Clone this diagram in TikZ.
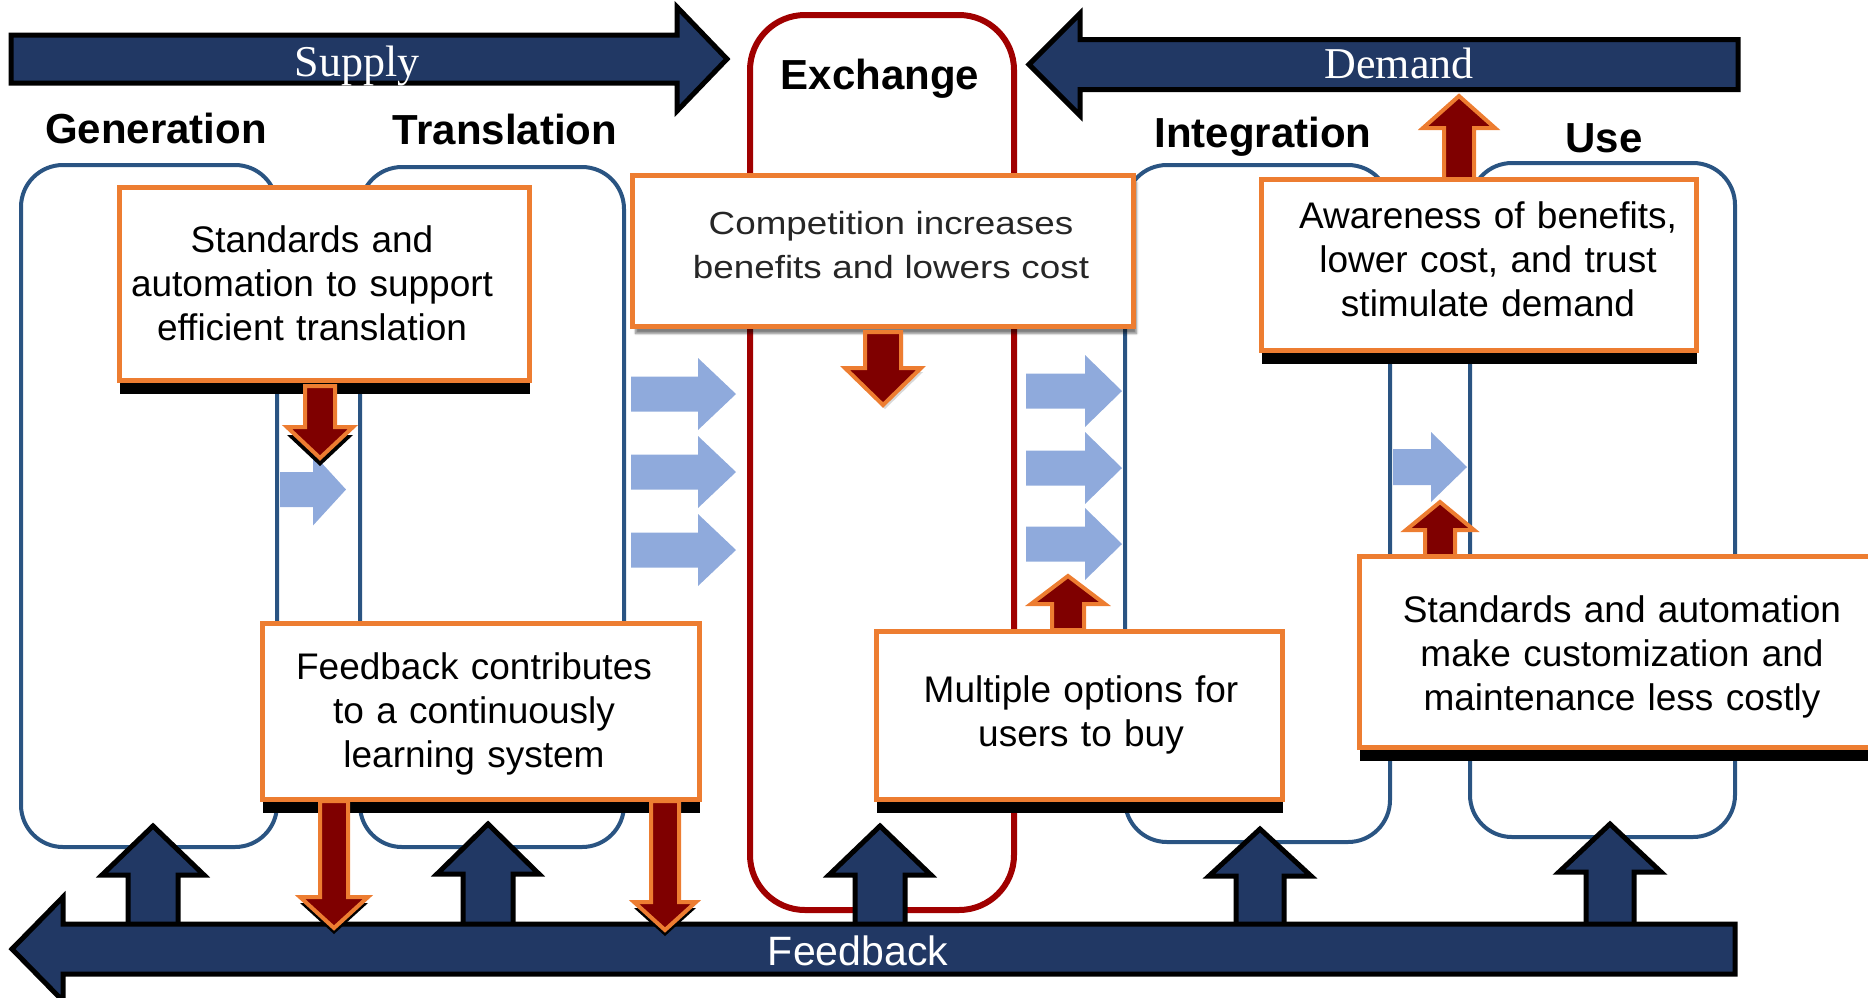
\documentclass[tikz,border=0pt]{standalone}
\usepackage{fontspec}
\setmainfont{Liberation Sans}
\newfontfamily\serifA{Liberation Serif}
\newfontfamily\wideA[FakeStretch=1.15]{Liberation Sans}
\usetikzlibrary{shadows,shadows.blur}
\definecolor{cNavy}{RGB}{33,56,100}
\definecolor{cSteel}{RGB}{42,84,130}
\definecolor{cExRed}{RGB}{160,0,0}
\definecolor{cOrange}{RGB}{237,125,49}
\definecolor{cMaroon}{RGB}{127,0,0}
\definecolor{cLBlue}{RGB}{143,170,220}
% vertical block arrow: cx, shaft half, head half, tail y, head-base y, tip y
\newcommand{\mkvarrow}[6]{(#1-#2,#4) -- (#1+#2,#4) -- (#1+#2,#5) -- (#1+#3,#5) -- (#1,#6) -- (#1-#3,#5) -- (#1-#2,#5) -- cycle}
% horizontal block arrow: cy, shaft half, head half, tail x, head-base x, tip x
\newcommand{\mkharrow}[6]{(#4,#1-#2) -- (#5,#1-#2) -- (#5,#1-#3) -- (#6,#1) -- (#5,#1+#3) -- (#5,#1+#2) -- (#4,#1+#2) -- cycle}
\tikzset{
  navyarrow/.style={fill=cNavy, draw=black, line width=5pt, line join=miter},
  redarrow/.style={fill=cMaroon, draw=cOrange, line width=4pt, line join=miter},
  bluearrow/.style={fill=cLBlue},
  stagebox/.style={draw=cSteel, line width=4pt, rounded corners=42pt, inner sep=0pt},
  exbox/.style={draw=cExRed, line width=6pt, rounded corners=55pt, inner sep=0pt},
  obox/.style={draw=cOrange, line width=5pt, fill=white, inner sep=0pt,
    general shadow={fill=black, shadow yshift=-13pt}},
  softbox/.style={draw=cOrange, line width=5pt, fill=white, inner sep=0pt,
    blur shadow={shadow xshift=3pt, shadow yshift=-7pt, shadow blur steps=6, shadow opacity=50}},
  stagelabel/.style={font=\bfseries\fontsize{42}{50}\selectfont, anchor=base},
  boxtext/.style={font=\fontsize{37}{44}\selectfont, align=center, anchor=base, text width=520pt, inner sep=0pt},
  bartext/.style={text=white, anchor=base, inner sep=0pt}
}
\begin{document}
\begin{tikzpicture}[x=1pt,y=-1pt]
\useasboundingbox (0,0) rectangle (1868,997);
\clip (0,0) rectangle (1868,997);

% stage boxes
\node[stagebox, minimum width=256, minimum height=682] (gen) at (149,506) {};
\node[stagebox, minimum width=264, minimum height=680] (trans) at (492,507) {};
\node[stagebox, minimum width=265, minimum height=677] (integ) at (1257.5,503.5) {};
\node[stagebox, minimum width=265, minimum height=674] (use) at (1602.5,500) {};
\node[exbox, minimum width=264, minimum height=895] (exch) at (882,462.5) {};

% stage labels
\node[stagelabel] (lgen) at (156,143) {Generation};
\node[stagelabel] (ltrans) at (505,144) {Translation};
\node[stagelabel] (lexch) at (880,89) {Exchange};
\node[stagelabel] (linteg) at (1263,147) {Integration};
\node[stagelabel] (luse) at (1604,152) {Use};

% light blue flow arrows
\fill[bluearrow] \mkharrow{489.5}{17.5}{36}{280}{313}{346};
\fill[bluearrow] \mkharrow{394}{17.5}{36}{631}{698}{736};
\fill[bluearrow] \mkharrow{472}{17.5}{36}{631}{698}{736};
\fill[bluearrow] \mkharrow{550}{17.5}{36}{631}{698}{736};
\fill[bluearrow] \mkharrow{391}{17.5}{36}{1026}{1085}{1122};
\fill[bluearrow] \mkharrow{468}{17.5}{36}{1026}{1085}{1122};
\fill[bluearrow] \mkharrow{544}{17.5}{36}{1026}{1085}{1122};
\fill[bluearrow] \mkharrow{467}{18}{35}{1393}{1431}{1467};

% navy feedback up arrows
\draw[navyarrow] \mkvarrow{153}{25}{51}{930}{875}{826};
\draw[navyarrow] \mkvarrow{488}{25}{51}{930}{874}{824};
\draw[navyarrow] \mkvarrow{880}{25}{51}{930}{875}{826};
\draw[navyarrow] \mkvarrow{1260}{24}{51}{930}{876}{829};
\draw[navyarrow] \mkvarrow{1610}{24}{51}{930}{872}{824};

% main bars
\draw[navyarrow] \mkharrow{59}{24}{52}{11}{677}{727};
\node[bartext, font=\serifA\fontsize{44}{50}\selectfont] (supply) at (357,76) {Supply};
\draw[navyarrow] \mkharrow{64.5}{25}{51}{1738}{1080}{1029};
\node[bartext, font=\serifA\fontsize{44}{50}\selectfont] (demand) at (1399,78) {Demand};
\draw[navyarrow] \mkharrow{949}{25}{52}{1735}{63}{12};
\node[bartext, font=\fontsize{41}{50}\selectfont] (feedback) at (858,965) {Feedback};

% orange text boxes
\node[obox, minimum width=410, minimum height=193] (b1) at (324.5,284) {};
\node[boxtext] (t1) at (312,252) {Standards and\\automation to support\\efficient translation};
\node[softbox, minimum width=501, minimum height=151] (b2) at (883,251) {};
\node[boxtext, font=\wideA\fontsize{32}{44}\selectfont, text=black!85] (t2) at (891,234) {Competition increases\\benefits and lowers cost};
\node[obox, minimum width=435, minimum height=171] (b3) at (1479,265) {};
\node[boxtext] (t3) at (1488,228) {Awareness of benefits,\\lower cost, and trust\\stimulate demand};
\node[obox, minimum width=437, minimum height=176] (b4) at (481,711.5) {};
\node[boxtext] (t4) at (474,679) {Feedback contributes\\to a continuously\\learning system};
\node[obox, minimum width=406, minimum height=168] (b5) at (1079.5,715.5) {};
\node[boxtext] (t5) at (1081,702) {Multiple options for\\users to buy};
\node[obox, minimum width=528, minimum height=191] (b6) at (1623.5,652) {};
\node[boxtext] (t6) at (1622,622) {Standards and automation\\make customization and\\maintenance less costly};

% red effect arrows
\fill[black, yshift=-8pt] \mkvarrow{320}{15}{33}{386}{427}{458};
\draw[redarrow] \mkvarrow{320}{15}{33}{386}{427}{458};
\fill[black!30, opacity=0.5, xshift=2pt, yshift=-4pt] \mkvarrow{883}{18}{38}{332}{368}{405};
\draw[redarrow] \mkvarrow{883}{18}{38}{332}{368}{405};
\draw[redarrow] \mkvarrow{1459}{15}{36}{179}{128}{96};
\draw[redarrow] \mkvarrow{1440}{15}{34}{556}{530}{502};
\draw[redarrow] \mkvarrow{1068}{16}{37}{630}{604}{576};
\fill[black, yshift=-6pt] \mkvarrow{334}{14}{34}{801}{897}{928};
\draw[redarrow] \mkvarrow{334}{14}{34}{801}{897}{928};
\fill[black, yshift=-6pt] \mkvarrow{665}{14}{31}{801}{902}{930};
\draw[redarrow] \mkvarrow{665}{14}{31}{801}{902}{930};
\end{tikzpicture}
\end{document}
